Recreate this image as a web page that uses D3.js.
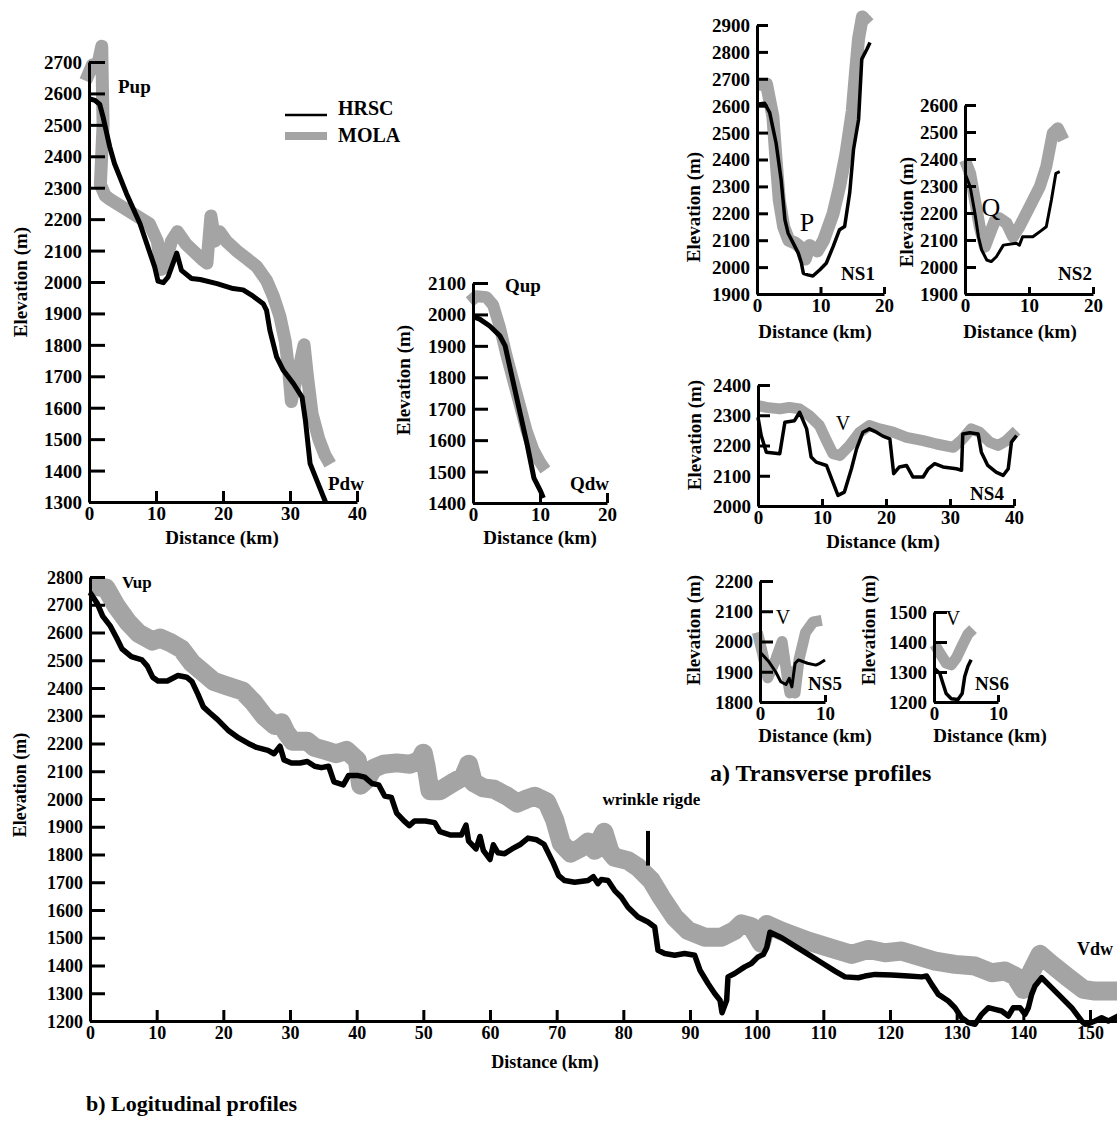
<!DOCTYPE html>
<html>
<head>
<meta charset="utf-8">
<script src="https://cdn.jsdelivr.net/npm/d3@7/dist/d3.min.js"></script>
<style>
body { margin: 0; background: #fff; }
svg text { font-family: "Liberation Serif", "Times New Roman", serif; font-weight: bold; fill: #000; }
</style>
</head>
<body>
<div id="chart"></div>
<script>
// ---- data: [distance km, elevation m] ----
var hrscP = [[0,2583],[0.9,2578],[1.6,2565],[2.1,2525],[3.1,2430],[3.8,2377],[5.6,2281],[7.6,2186],[9.8,2048],[10.3,2003],[11.1,1998],[11.8,2016],[13.1,2092],[13.8,2037],[15.3,2011],[16.6,2008],[19.1,1995],[21.5,1979],[23,1975],[24.5,1955],[26,1931],[26.5,1910],[27,1846],[28,1762],[29,1719],[30.5,1677],[31.8,1634],[32.3,1560],[33,1422],[34,1369],[35.3,1300]];
var molaP = [[-0.5,2640],[0.5,2690],[1.2,2680],[1.9,2750],[2.1,2500],[1.7,2310],[2.4,2275],[3,2265],[4.5,2245],[6,2225],[7.5,2205],[9,2185],[10.2,2130],[10.8,2040],[11.4,2060],[12.3,2130],[13.2,2160],[14.5,2120],[16,2090],[17,2070],[17.6,2060],[18.2,2210],[18.8,2130],[19.5,2160],[20.5,2130],[22,2100],[23.5,2075],[25,2050],[26.5,2005],[27.5,1955],[28.5,1890],[29.3,1810],[29.8,1720],[30.2,1620],[30.8,1680],[31.5,1740],[32.1,1800],[32.6,1700],[33.3,1580],[34.3,1500],[35.2,1450],[36,1420]];

var hrscQ = [[0,1993],[1,1985],[2.5,1963],[4,1932],[4.8,1900],[6,1784],[7.1,1679],[8.1,1584],[9.1,1479],[10.1,1437],[10.5,1416]];
var molaQ = [[-0.5,2040],[0.5,2058],[2,2055],[3,2030],[4,1960],[5,1870],[6,1790],[7,1710],[8,1630],[9,1570],[10,1530],[10.8,1505]];

var hrscNS1 = [[0,2605],[1.2,2609],[2,2574],[3,2462],[3.8,2325],[4.4,2176],[4.9,2126],[5.7,2089],[6.5,2052],[7,2014],[7.3,1977],[8,1971],[8.8,1967],[9.9,1990],[10.9,2014],[12,2077],[13,2139],[13.8,2151],[14.6,2276],[15.2,2437],[16,2549],[16.5,2773],[17.3,2810],[17.8,2835]];
var molaNS1 = [[0,2680],[1.5,2680],[2.5,2560],[3,2400],[3.5,2250],[4.2,2150],[5,2100],[6,2090],[7,2070],[7.6,2030],[8.3,2080],[9.5,2060],[10.5,2100],[12,2200],[13,2300],[14,2420],[15,2580],[15.5,2720],[16,2850],[16.6,2930],[17.6,2905]];

var hrscNS2 = [[0,2347],[0.8,2298],[1.55,2199],[2.1,2112],[2.6,2063],[3.4,2026],[4.1,2020],[4.9,2038],[6,2081],[8,2088],[8.5,2081],[9,2112],[10.6,2112],[11.7,2131],[12.7,2149],[13.5,2248],[14.2,2347],[14.8,2353]];
var molaNS2 = [[0,2396],[0.8,2347],[1.55,2248],[2.3,2149],[3.1,2075],[3.9,2125],[4.7,2174],[5.4,2180],[6.5,2162],[7.5,2112],[8.5,2149],[10.1,2223],[11.7,2298],[12.7,2372],[13.7,2495],[14.5,2514],[15.4,2471]];

var hrscNS4 = [[0,2293],[0.5,2233],[1.3,2178],[3.4,2173],[4.2,2277],[5.7,2282],[6.5,2310],[7.6,2255],[8.3,2162],[9.1,2145],[10.7,2134],[11.7,2079],[12.5,2035],[13.5,2046],[14.6,2123],[15.4,2189],[16.4,2244],[17.4,2255],[18.5,2244],[19.5,2231],[20.6,2222],[21.2,2107],[22.1,2129],[23.2,2134],[24.2,2096],[25.8,2096],[26.6,2123],[27.6,2140],[28.9,2129],[31,2123],[31.8,2118],[32,2238],[33.1,2242],[34.4,2238],[34.9,2178],[35.9,2134],[37.2,2112],[38.3,2101],[39.1,2123],[39.6,2211],[40.4,2233]];
var molaNS4 = [[0,2332],[1.3,2326],[3.4,2321],[4.9,2326],[6.5,2321],[8,2299],[9.6,2266],[10.7,2216],[11.7,2173],[12.8,2167],[14.3,2200],[15.9,2244],[17.4,2266],[19,2255],[21.1,2244],[23.2,2227],[25.8,2216],[27.9,2205],[30.5,2194],[32,2222],[33.3,2255],[34.6,2244],[36.2,2211],[37.5,2200],[38.8,2216],[40.4,2249]];

var hrscNS5 = [[0,1965],[1.3,1935],[2.4,1900],[3.2,1867],[4,1858],[4.5,1878],[4.9,1850],[5.4,1928],[5.9,1939],[7.3,1928],[8.6,1922],[9.2,1928],[10,1939]];
var molaNS5 = [[-0.4,2030],[0.4,1960],[1.2,1880],[2.4,1940],[3.4,2000],[4.2,1880],[4.6,1830],[5,1900],[5.4,1830],[6,1940],[7,2030],[8.2,2065],[9.5,2070]];

var hrscNS6 = [[0,1313],[0.9,1296],[1.4,1262],[1.9,1228],[2.7,1211],[3.75,1208],[4.4,1228],[4.8,1285],[5.3,1319],[5.8,1341]];
var molaNS6 = [[0.1,1392],[0.9,1364],[1.9,1330],[2.7,1324],[3.5,1347],[4.5,1392],[5.3,1426],[6.1,1443]];

var hrscV = [[0,2744],[1.1,2704],[1.9,2659],[3,2625],[4,2580],[4.8,2541],[6.2,2513],[7.8,2501],[8.6,2479],[9.4,2439],[10.2,2425],[11.6,2425],[13.2,2445],[14.5,2439],[15.3,2423],[16.2,2377],[17,2332],[18,2310],[19.1,2287],[20.7,2248],[22.3,2220],[24,2197],[25,2186],[26.7,2175],[27.6,2163],[28.5,2190],[29.1,2141],[30.2,2130],[31.5,2130],[32.6,2135],[33.7,2118],[34.7,2113],[35.8,2118],[36.6,2062],[38,2051],[38.8,2085],[40.1,2085],[41.2,2079],[42.3,2056],[43.3,2051],[44.2,2011],[45.2,2006],[46,1949],[47.1,1921],[47.9,1904],[48.7,1921],[50.3,1921],[51.7,1915],[52.5,1882],[54.1,1870],[55.7,1870],[56.4,1906],[56.8,1848],[57.9,1820],[58.5,1865],[59,1815],[60,1782],[60.5,1835],[61.2,1806],[62.2,1803],[63.3,1820],[64.6,1837],[65.7,1859],[67,1853],[68.1,1837],[69.5,1769],[70.3,1724],[71.2,1706],[72.7,1700],[74.7,1706],[75.5,1720],[76.2,1695],[76.7,1710],[77.7,1706],[78.7,1670],[79.7,1646],[80.7,1610],[82.2,1575],[83.7,1557],[84.7,1539],[85.2,1455],[86.2,1443],[87.7,1437],[89.2,1443],[90.7,1437],[91.5,1383],[92.7,1335],[93.7,1299],[94.5,1275],[94.8,1230],[95.5,1275],[95.7,1359],[96.7,1371],[98.2,1395],[99.2,1407],[100.2,1431],[101,1440],[101.5,1464],[102,1520],[103.75,1500],[105.75,1470],[107.75,1440],[109.75,1410],[111.75,1380],[113.25,1359],[115.25,1356],[116.25,1362],[117.75,1368],[120.25,1366],[122.75,1362],[124.75,1359],[125.5,1362],[126.25,1332],[127.25,1296],[128.75,1272],[129.75,1248],[130.75,1212],[131.75,1194],[132.75,1188],[133.75,1224],[134.75,1248],[135.75,1242],[136.75,1236],[137.75,1218],[138.5,1248],[139.5,1248],[140.25,1224],[140.75,1248],[141.25,1296],[141.75,1326],[142.75,1356],[143.75,1332],[145.25,1296],[147.25,1248],[148.75,1200],[149.25,1188],[149.75,1190],[150.75,1200],[151.75,1212],[152.75,1200],[154.25,1218]];
var molaV = [[0,2770],[2.4,2760],[4,2693],[5.7,2637],[7.3,2597],[9.4,2569],[10.5,2580],[12.1,2563],[13.7,2541],[15.3,2490],[17,2456],[18.6,2423],[20.7,2406],[22.9,2389],[24.5,2349],[26.1,2299],[27.7,2265],[28.7,2275],[29.4,2240],[30.4,2208],[32.6,2208],[33.7,2186],[35.3,2175],[36.9,2163],[38.5,2175],[40.1,2140],[40.6,2050],[41.5,2070],[42.5,2110],[44,2125],[46,2130],[48,2125],[49.5,2140],[50,2165],[50.4,2120],[51,2030],[52.5,2030],[54.5,2060],[56,2080],[56.8,2125],[57.5,2060],[59,2040],[60.6,2035],[62.6,2010],[64.1,1985],[65.5,2000],[66.7,2010],[68.5,1990],[69.7,1925],[70.7,1840],[72.1,1805],[73.7,1825],[74.7,1845],[75.7,1815],[77.1,1880],[78,1810],[78.7,1790],[80.7,1778],[82.2,1754],[84.2,1706],[85.7,1646],[87.7,1574],[89.7,1526],[92.2,1502],[94.7,1502],[96.7,1526],[97.7,1550],[99.2,1540],[100.7,1480],[101.5,1548],[103.75,1524],[107.75,1488],[111.75,1458],[114.25,1440],[116.75,1458],[119.25,1446],[121.75,1452],[124.25,1434],[126.75,1416],[129.75,1404],[132.75,1398],[135.25,1374],[137.25,1380],[138.75,1362],[140,1314],[140.5,1344],[142.5,1440],[144.25,1404],[146.75,1356],[149,1314],[150.75,1308],[154.3,1308]];

// tick labels
var pYTicks = [1300,1400,1500,1600,1700,1800,1900,2000,2100,2200,2300,2400,2500,2600,2700];
var pXTicks = [0,10,20,30,40];
var qYTicks = [1400,1500,1600,1700,1800,1900,2000,2100];
var qXTicks = [0,10,20];
var ns1YTicks = [1900,2000,2100,2200,2300,2400,2500,2600,2700,2800,2900];
var ns2YTicks = [1900,2000,2100,2200,2300,2400,2500,2600];
var ns12XTicks = [0,10,20];
var ns4YTicks = [2000,2100,2200,2300,2400];
var ns4XTicks = [0,10,20,30,40];
var ns5YTicks = [1800,1900,2000,2100,2200];
var ns6YTicks = [1200,1300,1400,1500];
var ns56XTicks = [0,10];
var vYTicks = [1200,1300,1400,1500,1600,1700,1800,1900,2000,2100,2200,2300,2400,2500,2600,2700,2800];
var vXTicks = [0,10,20,30,40,50,60,70,80,90,100,110,120,130,140,150];

var grey = "#a4a4a4";
var width = 1117, height = 1125;

var svg = d3.select("#chart").append("svg")
    .attr("width", width)
    .attr("height", height);

function drawPanel(p) {
    var x = d3.scaleLinear().domain(p.xDom).range([p.left, p.right]);
    var y = d3.scaleLinear().domain(p.yDom).range([p.bottom, p.top]);
    var g = svg.append("g");

    var line = d3.line()
        .x(function(d) { return x(d[0]); })
        .y(function(d) { return y(d[1]); });

    g.append("path")
        .datum(p.mola)
        .attr("d", line)
        .attr("fill", "none")
        .attr("stroke", grey)
        .attr("stroke-width", p.mw)
        .attr("stroke-linejoin", "round");

    var yAxis = d3.axisLeft(y).tickValues(p.yTicks).tickFormat(d3.format("d"))
        .tickSize(-p.yt).tickSizeOuter(0).tickPadding(7);
    var xAxis = d3.axisBottom(x).tickValues(p.xTicks).tickFormat(d3.format("d"))
        .tickSize(-p.xt).tickSizeOuter(0).tickPadding(4);

    var ya = g.append("g").attr("transform", "translate(" + p.left + ",0)").call(yAxis);
    var xa = g.append("g").attr("transform", "translate(0," + p.bottom + ")").call(xAxis);
    [ya, xa].forEach(function(a) {
        a.selectAll("path, line").attr("stroke", "#000").attr("stroke-width", 3);
        a.selectAll("text")
            .attr("font-family", null)
            .style("font-size", p.fs + "px");
    });
    ya.selectAll("text").attr("dy", "0.34em");
    xa.selectAll("text").attr("dy", "0.75em");

    g.append("path")
        .datum(p.hrsc)
        .attr("d", line)
        .attr("fill", "none")
        .attr("stroke", "#000")
        .attr("stroke-width", p.hw)
        .attr("stroke-linejoin", "round");

    g.append("text")
        .attr("transform", "translate(" + p.ytx + "," + p.yty + ") rotate(-90)")
        .attr("text-anchor", "middle")
        .attr("dy", "0.35em")
        .style("font-size", p.fs + "px")
        .text("Elevation (m)");

    g.append("text")
        .attr("x", p.xtx)
        .attr("y", p.xty)
        .attr("text-anchor", "middle")
        .attr("dy", "0.35em")
        .style("font-size", p.fs + "px")
        .text("Distance (km)");

    p.x = x; p.y = y;
    return p;
}

var P = drawPanel({xDom:[0,40], yDom:[1300,2700], left:89, right:357, bottom:502, top:62,
    hrsc:hrscP, mola:molaP, xTicks:pXTicks, yTicks:pYTicks, hw:5, mw:13, yt:16, xt:11, fs:19,
    ytx:20, yty:282, xtx:222, xty:537});
var Q = drawPanel({xDom:[0,20], yDom:[1400,2100], left:473, right:607, bottom:503, top:283,
    hrsc:hrscQ, mola:molaQ, xTicks:qXTicks, yTicks:qYTicks, hw:5, mw:12, yt:15, xt:10, fs:19,
    ytx:403, yty:380, xtx:540, xty:537});
var N1 = drawPanel({xDom:[0,20], yDom:[1900,2900], left:757, right:884, bottom:294, top:25,
    hrsc:hrscNS1, mola:molaNS1, xTicks:ns12XTicks, yTicks:ns1YTicks, hw:3.5, mw:13, yt:11, xt:7, fs:19,
    ytx:693, yty:207, xtx:815, xty:331});
var N2 = drawPanel({xDom:[0,20], yDom:[1900,2600], left:965, right:1093, bottom:294, top:105,
    hrsc:hrscNS2, mola:molaNS2, xTicks:ns12XTicks, yTicks:ns2YTicks, hw:3, mw:12, yt:11, xt:7, fs:19,
    ytx:906, yty:212, xtx:1020, xty:331});
var N4 = drawPanel({xDom:[0,40], yDom:[2000,2400], left:758, right:1014, bottom:506, top:385,
    hrsc:hrscNS4, mola:molaNS4, xTicks:ns4XTicks, yTicks:ns4YTicks, hw:3.5, mw:11, yt:12, xt:7, fs:19,
    ytx:694, yty:435, xtx:883, xty:541});
var N5 = drawPanel({xDom:[0,10], yDom:[1800,2200], left:760, right:825, bottom:702, top:581,
    hrsc:hrscNS5, mola:molaNS5, xTicks:ns56XTicks, yTicks:ns5YTicks, hw:3, mw:11, yt:13, xt:7, fs:19,
    ytx:693, yty:630, xtx:815, xty:735});
var N6 = drawPanel({xDom:[0,10], yDom:[1200,1500], left:934, right:998, bottom:702, top:612,
    hrsc:hrscNS6, mola:molaNS6, xTicks:ns56XTicks, yTicks:ns6YTicks, hw:3.5, mw:11, yt:13, xt:7, fs:19,
    ytx:868, yty:630, xtx:990, xty:735});
var V = drawPanel({xDom:[0,154.05], yDom:[1200,2800], left:90, right:1117, bottom:1021, top:577,
    hrsc:hrscV, mola:molaV, xTicks:vXTicks, yTicks:vYTicks, hw:5.5, mw:19, yt:15, xt:11, fs:18,
    ytx:20, yty:785, xtx:545, xty:1062});

// annotations
function label(txt, x, y, size, anchor, weight) {
    svg.append("text")
        .attr("x", x).attr("y", y)
        .attr("dy", "0.35em")
        .attr("text-anchor", anchor || "start")
        .style("font-size", size + "px")
        .style("font-weight", weight || "bold")
        .text(txt);
}
label("Pup", 118, 86, 19);
label("Pdw", 328, 483, 19);
label("Qup", 505, 285, 19);
label("Qdw", 570, 483, 19);
label("P", 807, 222, 26, "middle", "normal");
label("NS1", 858, 273, 19, "middle");
label("Q", 991, 207, 26, "middle", "normal");
label("NS2", 1075, 273, 19, "middle");
label("V", 843, 423, 20, "middle", "normal");
label("NS4", 987, 493, 19, "middle");
label("V", 783, 617, 20, "middle", "normal");
label("NS5", 825, 683, 19, "middle");
label("V", 953, 618, 20, "middle", "normal");
label("NS6", 992, 683, 19, "middle");
label("a) Transverse profiles", 710, 773, 24);
label("b) Logitudinal profiles", 86, 1103, 22);
label("Vup", 122, 582, 17);
label("Vdw", 1077, 949, 18);
label("wrinkle rigde", V.x(84.2), V.y(2000), 17, "middle");
svg.append("line")
    .attr("x1", V.x(83.7)).attr("x2", V.x(83.7))
    .attr("y1", V.y(1885)).attr("y2", V.y(1760))
    .attr("stroke", "#000").attr("stroke-width", 4);

// legend
svg.append("line").attr("x1", 285).attr("x2", 327).attr("y1", 115).attr("y2", 115)
    .attr("stroke", "#000").attr("stroke-width", 2.5);
svg.append("line").attr("x1", 285).attr("x2", 327).attr("y1", 136).attr("y2", 136)
    .attr("stroke", grey).attr("stroke-width", 8);
label("HRSC", 338, 108, 20);
label("MOLA", 338, 135, 20);
</script>
</body>
</html>
